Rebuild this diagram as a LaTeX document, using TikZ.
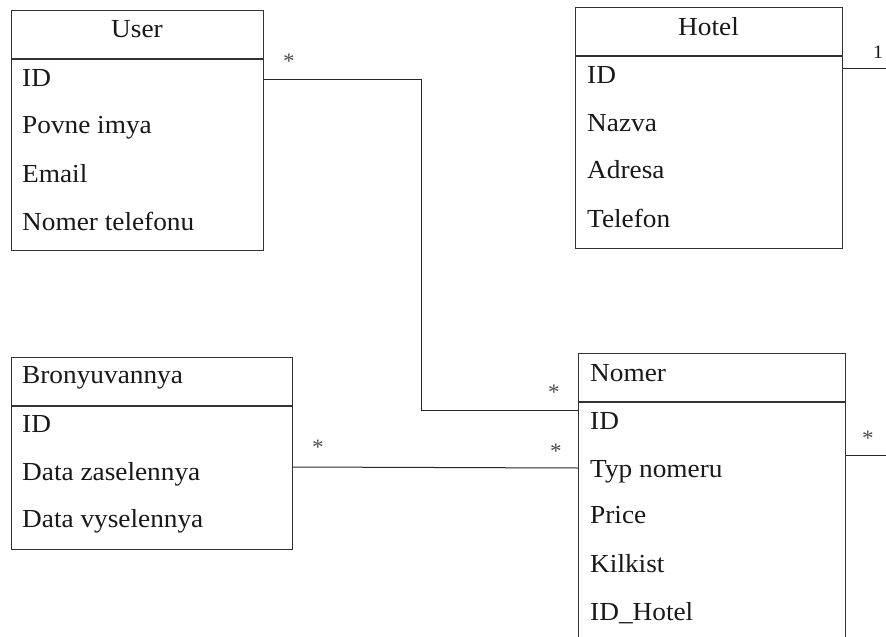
\documentclass[tikz,border=0pt]{standalone}
\usepackage{fontspec}
\setmainfont{Liberation Serif}[FakeStretch=1.05]
\usetikzlibrary{calc}
\begin{document}
\begin{tikzpicture}[x=1pt,y=-1pt,
  box/.style={draw=black!80,line width=1.2pt,inner sep=0pt,anchor=north west},
  sepline/.style={draw=black!80,line width=1.2pt},
  attr/.style={anchor=base west,inner sep=0pt,font=\fontsize{26}{30}\selectfont,text=black!90},
  ttl/.style={anchor=base,inner sep=0pt,font=\fontsize{26}{30}\selectfont,text=black!90},
  ttlw/.style={anchor=base west,inner sep=0pt,font=\fontsize{26}{30}\selectfont,text=black!90},
  conn/.style={draw=black!85,line width=1pt},
  mult/.style={anchor=base,inner sep=0pt,font=\fontsize{22}{24}\selectfont,text=black!70},
  one/.style={anchor=base,inner sep=0pt,font=\fontsize{19}{22}\selectfont,text=black!90}]
\useasboundingbox (0,0) rectangle (886,637);
\fill[white] (0,0) rectangle (886,637);

% User
\node[box,minimum width=252pt,minimum height=240pt] (user) at (11,10) {};
\draw[sepline] ($(user.north west)+(0,49)$) -- ($(user.north east)+(0,49)$);
\node[ttl] (userT) at (137,37) {User};
\node[attr] (u1) at (22,86) {ID};
\node[attr] (u2) at (22,133) {Povne imya};
\node[attr] (u3) at (22,182) {Email};
\node[attr] (u4) at (22,230) {Nomer telefonu};

% Hotel
\node[box,minimum width=267pt,minimum height=241pt] (hotel) at (575,7) {};
\draw[sepline] ($(hotel.north west)+(0,49)$) -- ($(hotel.north east)+(0,49)$);
\node[ttl] (hotelT) at (708.5,35) {Hotel};
\node[attr] (h1) at (587,83) {ID};
\node[attr] (h2) at (587,131) {Nazva};
\node[attr] (h3) at (587,178) {Adresa};
\node[attr] (h4) at (587,227) {Telefon};

% Bronyuvannya
\node[box,minimum width=281pt,minimum height=192pt] (bron) at (11,357) {};
\draw[sepline] ($(bron.north west)+(0,49)$) -- ($(bron.north east)+(0,49)$);
\node[ttlw] (bronT) at (22,383) {Bronyuvannya};
\node[attr] (b1) at (22,432) {ID};
\node[attr] (b2) at (22,480) {Data zaselennya};
\node[attr] (b3) at (22,527) {Data vyselennya};

% Nomer
\node[box,minimum width=267pt,minimum height=300pt] (nomer) at (578,353) {};
\draw[sepline] ($(nomer.north west)+(0,49)$) -- ($(nomer.north east)+(0,49)$);
\node[ttlw] (nomerT) at (590,381) {Nomer};
\node[attr] (n1) at (590,429) {ID};
\node[attr] (n2) at (590,477) {Typ nomeru};
\node[attr] (n3) at (590,523) {Price};
\node[attr] (n4) at (590,572) {Kilkist};
\node[attr] (n5) at (590,620) {ID\_Hotel};

% connectors
\coordinate (ubend) at (421,410);
\coordinate (hend) at (886,68);
\coordinate (nend) at (886,455);
\draw[conn] ($(user.north east)+(0,69)$) -| (ubend) -- ($(nomer.north west)+(0,57)$);
\draw[conn] ($(bron.north east)+(0,110)$) -- ($(nomer.north west)+(0,115)$);
\draw[conn] ($(hotel.north east)+(0,61)$) -- (hend);
\draw[conn] ($(nomer.north east)+(0,102)$) -- (nend);

% multiplicities
\node[mult] (m1) at (289,68) {*};
\node[mult] (m2) at (554,399) {*};
\node[mult] (m3) at (318,454) {*};
\node[mult] (m4) at (556,458) {*};
\node[mult] (m5) at (868,445) {*};
\node[one] (m6) at (878,58) {1};
\end{tikzpicture}
\end{document}
